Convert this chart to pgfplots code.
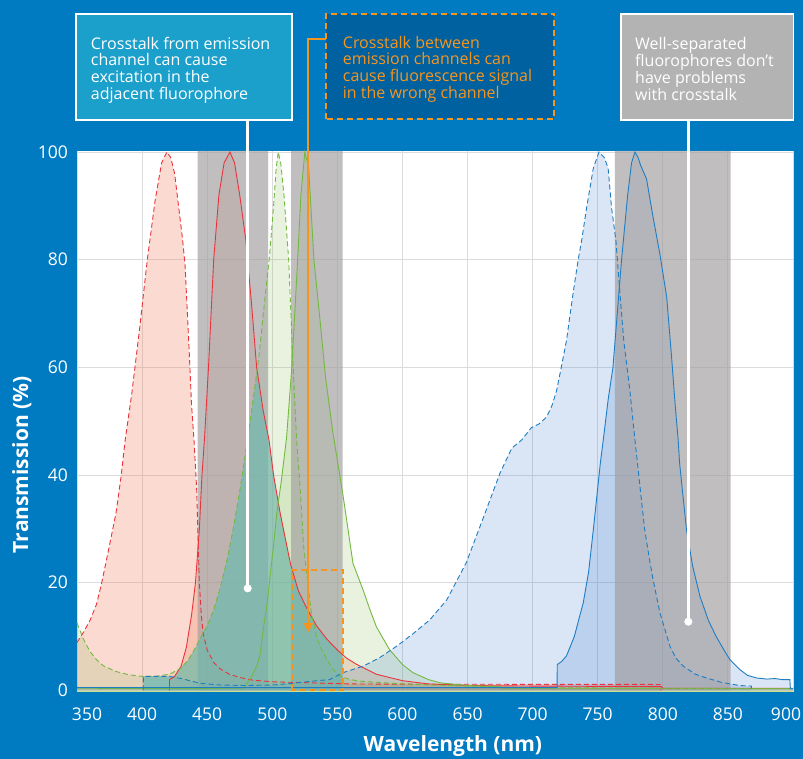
\documentclass[border=0pt]{standalone}
\usepackage{fontspec}
\setmainfont{Open Sans}
\usepackage{pgfplots}
\pgfplotsset{compat=1.18}
\usepackage{pgfplotstable}
\usetikzlibrary{arrows.meta}
\definecolor{bgblue}{RGB}{0,123,193}
\definecolor{boxA}{RGB}{27,160,203}
\definecolor{boxB}{RGB}{0,97,160}
\definecolor{boxC}{RGB}{179,179,179}
\definecolor{orangec}{RGB}{247,148,29}
\definecolor{redl}{RGB}{232,52,60}
\definecolor{redf}{RGB}{240,110,75}
\definecolor{greenl}{RGB}{115,185,65}
\definecolor{greenf}{RGB}{125,180,70}
\definecolor{bluel}{RGB}{30,125,195}
\definecolor{bluef}{RGB}{40,110,200}
\definecolor{bandc}{RGB}{160,157,158}
\definecolor{tealc}{RGB}{98,188,178}
\definecolor{gridc}{RGB}{220,220,220}

\pgfplotstableread{
x y
350 8.9
355 10.8
360 13
365 16
369 20
375 27
380 33
384 40
387 46.5
392 55
398 67
404 80
410 91
415 98
419 100
422 99
425 96
428 90
431 84
433 79
436 64
438 53
440 46
442 37
443 28
444 20
445.5 14
447 10.5
450 7.5
455 5.2
460 4
467 3
475 2.4
485 1.9
500 1.6
530 1.4
560 1.2
600 1.15
798 1.1
798.5 0
}\redex

\pgfplotstableread{
x y
421 0
421.1 2
425 2.6
430 4.5
434 8
438 14
441 20
444 30
446 40
448 47
451 60
455 80
459 92
463 98
467.5 100
471 98
475 92
479.5 84
484 72
488 60
493 52
497.5 46.5
501 40
506 33
514 23.5
520 18.5
526 15.5
534 12
542 9.5
550 7.5
557 6
565 4.8
580 3
600 1.8
620 1.2
650 0.9
700 0.8
799 0.7
800 0.4
900 0.4
}\redem

\pgfplotstableread{
x y
350 12.5
355 9.5
360 7.2
365 5.7
370 4.6
380 3.5
390 2.9
400 2.6
410 2.6
421 3
429 4
435 5.5
440 7.5
445 9.8
450 12
455 15
460 19
465 24
470 30
475 37
480 45
483 50
487 57
490 62.6
494 72
498 81
501 90
503 97
504.6 100
506.5 98
509 92
512.6 80
515 66
517 55
518.7 46.5
521 39
522.6 33
524 27
527 20.5
530 14.4
534 10
538 7.5
542 5.7
547 3.8
552 2.6
560 2
568 1.7
600 1.2
650 0.8
700 0.5
900 0.3
}\grex

\pgfplotstableread{
x y
350 0.3
478 0.4
480 1.1
484 2.5
488 4.5
490.5 6.5
493 11.3
496 16
498 20.5
501 27
503.5 33
507 39
511 47
515 60
519.5 80
522 92
525 100
528 97
532 80
537 68
541 58
546.5 48
554.5 36
562 23.6
570 18.5
575 15
580 11.8
590 7.6
600 4.8
608 3.3
620 2
629 1.4
650 0.9
675 0.7
676 0.3
900 0.3
}\grem

\pgfplotstableread{
x y
400.9 0
401 2.6
421 2.6
430 2.2
445 1.3
460 1.0
480 0.9
500 1.0
515 1.3
530 1.7
544 2.0
554.5 3.3
569.7 4.5
582 6
595.5 8.2
608 10.5
621 13.1
634 16.8
649 23.7
662 32
675 40.4
684 45
691.5 46.5
699 48.8
705 49.5
710.8 50.8
715 53
718.4 55.7
722 60
726 65
731.2 74
735 80
737.6 83.5
741.5 89.7
746.6 97
751 100
755 99
758 97
760.6 89.7
764 83.5
767 74
770 65
774.7 55.7
778.6 46.5
782.4 38
786 30
790 24
792.6 20.5
797.8 14.4
805.5 8.2
810 6
815.7 4.5
825 3
833.6 2.3
845 1.5
859 0.9
868 0.8
868.1 0
}\blex

\pgfplotstableread{
x y
350 0.5
718.8 0.5
718.9 4.8
722 5.3
726 6.4
732 10
738.9 16.3
743 22
746.6 29.8
752 42.2
755 48
758 54
761.7 60
765 70
768.3 80
773 92
776 98
778.6 100
781 99
783 97.5
787.5 95
792.6 87.8
797.8 81
803 73
806.7 62
809.5 53
811.8 46.5
812.9 42.2
818.2 29.8
823 23
828.5 17.5
835 13
841 10
847 7.5
851.5 5.7
859 3.9
865 2.8
872 2.3
880 2.1
886 2.2
892 2.0
897.6 2
898 0.3
900 0.3
}\blem

\pgfplotstableread{
x y
425 0
425 2.6
430 4.3
435 5.5
440 7.5
445 9.8
450 12
455 15
460 19
465 24
470 30
475 37
480 45
483 50
486 55
488 59
490 56
493 52
497.5 46.5
501 40
506 33
514 23.5
520 18.5
526 15.5
534 12
542 9.5
550 7.5
554 6.6
554 0
}\overlap

\pgfplotstableread{
x y
401 0
401 2.6
421 2.6
425 2.4
425 0
}\overlapb

\begin{document}
\begin{tikzpicture}[x=1pt,y=1pt]
\fill[bgblue] (0,0) rectangle (803,759);
\useasboundingbox (0,0) rectangle (803,759);

\draw[white, line width=1.6pt, fill=boxA] (76,639) rectangle (291.7,745);
\node[anchor=west, align=left, inner sep=0pt, text=white, font=\fontsize{16}{16.7}\selectfont] at (90.7,689) {Crosstalk from emission\\channel can cause\\excitation in the\\adjacent fluorophore};

\draw[orangec, line width=2pt, dash pattern=on 6pt off 4pt, fill=boxB] (326,639.7) rectangle (554.3,745);
\node[anchor=west, align=left, inner sep=0pt, text=orangec, font=\fontsize{16}{16.7}\selectfont] at (342.7,690) {Crosstalk between\\emission channels can\\cause fluorescence signal\\in the wrong channel};

\draw[white, line width=1.6pt, fill=boxC] (621,639) rectangle (793.3,745);
\node[anchor=west, align=left, inner sep=0pt, text=white, font=\fontsize{16}{16.7}\selectfont] at (635,690) {Well-separated\\fluorophores don’t\\have problems\\with crosstalk};

\begin{axis}[
  at={(77pt,67pt)}, anchor=south west,
  scale only axis, width=716pt, height=541pt,
  xmin=350, xmax=900, ymin=-0.3, ymax=100.2,
  clip=false,
  axis background/.style={fill=white},
  axis line style={draw=none},
  major tick length=0pt,
  xtick={350,400,450,500,550,600,650,700,750,800,850,900},
  xticklabels={\hspace*{20pt}350,400,450,500,550,600,650,700,750,800,850,900\hspace*{14pt}},
  ytick={0,20,...,100},
  grid=major,
  major grid style={draw=gridc, line width=0.9pt},
  /pgf/number format/assume math mode=true,
  xticklabel style={anchor=base, yshift=-29pt, font=\fontsize{17.5}{18}\selectfont, text=white},
  yticklabel style={anchor=east, inner sep=0pt, xshift=-9pt, font=\fontsize{17.5}{18}\selectfont, text=white},
  xlabel={\textbf{Wavelength (nm)}},
  ylabel={\textbf{Transmission (\%)}},
  xlabel style={at={(axis description cs:0.525,-0.100)}, anchor=center, font=\fontsize{21}{22}\selectfont, text=white},
  ylabel style={at={(axis description cs:-0.077,0.42)}, anchor=center, font=\fontsize{21}{22}\selectfont, text=white},
]
% fills
\addplot[draw=none, fill=redf, fill opacity=0.25] table {\redex} \closedcycle;
\addplot[draw=none, fill=redf, fill opacity=0.22] table {\redem} \closedcycle;
\addplot[draw=none, fill=greenf, fill opacity=0.17] table {\grex} \closedcycle;
\addplot[draw=none, fill=greenf, fill opacity=0.17] table {\grem} \closedcycle;
\addplot[draw=none, fill=bluef, fill opacity=0.17] table {\blex} \closedcycle;
\addplot[draw=none, fill=bluef, fill opacity=0.17] table {\blem} \closedcycle;
% filter bands
\addplot[draw=none, fill=bandc, fill opacity=0.66] coordinates {(442.7,-0.3)(442.7,100.2)(496.8,100.2)(496.8,-0.3)} \closedcycle;
\addplot[draw=none, fill=bandc, fill opacity=0.66] coordinates {(514.4,-0.3)(514.4,100.2)(554.1,100.2)(554.1,-0.3)} \closedcycle;
\addplot[draw=none, fill=bandc, fill opacity=0.66] coordinates {(763.2,-0.3)(763.2,100.2)(852.1,100.2)(852.1,-0.3)} \closedcycle;
% crosstalk overlap
\addplot[draw=none, fill=tealc, fill opacity=0.6] table {\overlap} -- cycle;
\addplot[draw=none, fill=tealc, fill opacity=0.6] table {\overlapb} -- cycle;
% lines
\addplot[redl, line width=0.9pt, dash pattern=on 5pt off 3pt] table {\redex};
\addplot[redl, line width=0.9pt] table {\redem};
\addplot[greenl, line width=0.9pt, dash pattern=on 5pt off 3pt] table {\grex};
\addplot[greenl, line width=0.9pt] table {\grem};
\addplot[bluel, line width=0.9pt, dash pattern=on 5pt off 3pt] table {\blex};
\addplot[bluel, line width=0.9pt] table {\blem};
\addplot[draw={rgb,255:red,200;green,225;blue,140}, line width=1.2pt] coordinates {(350,-0.2)(900,-0.2)};
% annotations
\addplot[orangec, line width=2pt, dash pattern=on 6pt off 4pt] coordinates {(514.9,0)(514.9,22.4)(554.1,22.4)(554.1,0)(514.9,0)};
\addplot[white, line width=2.6pt] coordinates {(481.1,18.96)(481.1,105.96)};
\addplot[white, only marks, mark=*, mark size=3.8pt] coordinates {(481.1,18.96)};
\addplot[white, line width=2.6pt] coordinates {(819.6,12.76)(819.6,105.96)};
\addplot[white, only marks, mark=*, mark size=3.8pt] coordinates {(819.6,12.76)};
\addplot[orangec, line width=2pt, -{Triangle[length=9pt,width=9pt]}] coordinates {(541.3,121.0)(527.7,121.0)(527.7,10.8)};
\end{axis}
\end{tikzpicture}
\end{document}
